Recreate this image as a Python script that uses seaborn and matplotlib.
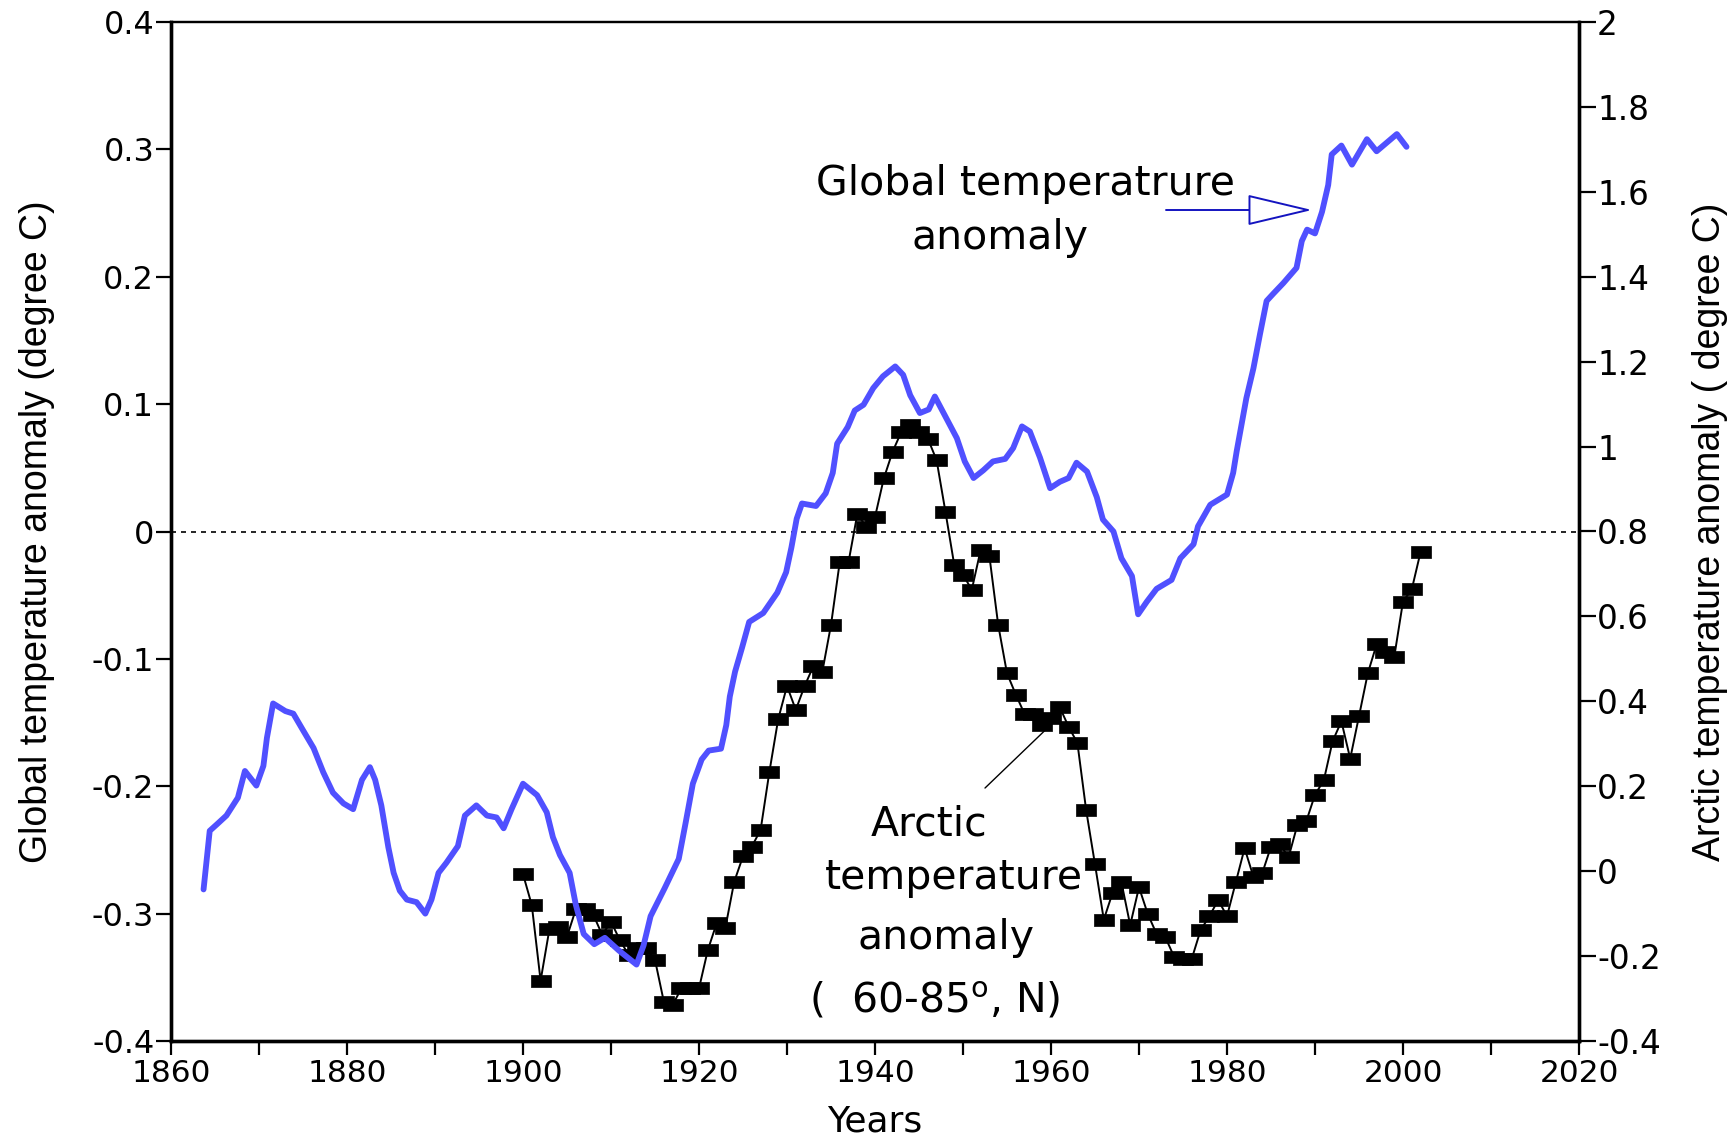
import matplotlib
matplotlib.use("Agg")
import matplotlib.pyplot as plt
import seaborn as sns
import pandas as pd

# ---------------- data ----------------
global_years = [1863.7, 1864.4, 1865.2, 1866.3, 1867.6, 1868.4, 1869.7, 1870.5, 1870.9, 1871.6,
                1873.0, 1873.9, 1875.0, 1876.2, 1877.3, 1878.4, 1879.6, 1880.7, 1881.7, 1882.6,
                1883.2, 1883.9, 1884.7, 1885.3, 1886.0, 1886.8, 1887.9, 1888.9, 1889.6, 1890.4,
                1891.3, 1892.6, 1893.4, 1894.7, 1895.9, 1897.0, 1897.8, 1898.7, 1900.0, 1901.6,
                1902.7, 1903.4, 1904.2, 1905.3, 1906.0, 1906.9, 1908.1, 1909.3, 1910.9, 1912.9,
                1913.7, 1914.5, 1916.1, 1917.7, 1918.5, 1919.3, 1920.3, 1921.1, 1922.5, 1923.1,
                1923.5, 1924.1, 1924.9, 1925.7, 1927.3, 1928.9, 1929.9, 1930.5, 1931.1, 1931.7,
                1933.3, 1934.4, 1935.2, 1935.7, 1936.9, 1937.7, 1938.7, 1939.8, 1940.9, 1942.3,
                1943.2, 1944.0, 1945.1, 1946.1, 1946.8, 1948.1, 1949.3, 1950.2, 1951.2, 1952.3,
                1953.4, 1954.8, 1955.7, 1956.7, 1957.6, 1958.75, 1959.9, 1961.0, 1962.0, 1962.9,
                1964.1, 1965.2, 1965.9, 1967.1, 1968.0, 1969.2, 1969.9, 1970.9, 1972.0, 1973.7,
                1974.7, 1976.2, 1976.7, 1978.1, 1980.0, 1980.7, 1981.1, 1982.2, 1983.0, 1983.75,
                1984.5, 1985.3, 1986.4, 1987.9, 1988.5, 1989.1, 1990.0, 1990.8, 1991.5, 1991.9,
                1993.0, 1994.2, 1995.9, 1997.0, 1999.3, 2000.4]
global_anom = [-0.281, -0.235, -0.230, -0.223, -0.209, -0.188, -0.1995, -0.184, -0.162, -0.135,
               -0.141, -0.143, -0.156, -0.170, -0.189, -0.205, -0.2135, -0.218, -0.195, -0.185,
               -0.195, -0.215, -0.248, -0.268, -0.282, -0.289, -0.291, -0.300, -0.289, -0.268,
               -0.260, -0.247, -0.223, -0.215, -0.223, -0.2245, -0.233, -0.218, -0.198, -0.207,
               -0.2205, -0.240, -0.254, -0.268, -0.293, -0.316, -0.324, -0.319, -0.329, -0.340,
               -0.325, -0.302, -0.280, -0.257, -0.228, -0.198, -0.179, -0.172, -0.1705, -0.152,
               -0.1296, -0.110, -0.091, -0.071, -0.064, -0.048, -0.032, -0.0126, 0.010, 0.022,
               0.020, 0.030, 0.046, 0.069, 0.082, 0.095, 0.0995, 0.1126, 0.1218, 0.1296,
               0.123, 0.107, 0.093, 0.0958, 0.106, 0.089, 0.0733, 0.055, 0.042, 0.048,
               0.055, 0.057, 0.0655, 0.0825, 0.0785, 0.058, 0.034, 0.039, 0.042, 0.054,
               0.047, 0.027, 0.0094, 0.000, -0.021, -0.035, -0.065, -0.055, -0.045, -0.038,
               -0.021, -0.010, 0.004, 0.021, 0.029, 0.046, 0.063, 0.1047, 0.128, 0.155,
               0.181, 0.187, 0.195, 0.207, 0.228, 0.237, 0.234, 0.251, 0.272, 0.296,
               0.303, 0.288, 0.308, 0.2985, 0.312, 0.302]

arctic_years = list(range(1900, 2003))
arctic_anom = [-0.007, -0.080, -0.258, -0.137, -0.132, -0.154, -0.090, -0.090, -0.103, -0.150,
               -0.119, -0.162, -0.197, -0.182, -0.182, -0.209, -0.307, -0.315, -0.276, -0.276,
               -0.276, -0.186, -0.123, -0.133, -0.025, 0.035, 0.058, 0.097, 0.234, 0.358,
               0.436, 0.380, 0.436, 0.483, 0.468, 0.580, 0.729, 0.729, 0.842, 0.810,
               0.834, 0.925, 0.988, 1.035, 1.051, 1.035, 1.019, 0.968, 0.847, 0.722,
               0.698, 0.663, 0.756, 0.742, 0.580, 0.466, 0.416, 0.370, 0.370, 0.344,
               0.360, 0.386, 0.340, 0.302, 0.143, 0.016, -0.114, -0.051, -0.026, -0.127,
               -0.038, -0.101, -0.148, -0.156, -0.202, -0.206, -0.206, -0.139, -0.106, -0.068,
               -0.106, -0.026, 0.054, -0.013, -0.005, 0.058, 0.063, 0.033, 0.109, 0.117,
               0.180, 0.214, 0.306, 0.353, 0.265, 0.365, 0.466, 0.534, 0.517, 0.504,
               0.635, 0.664, 0.752]

left_ticks = [0.4, 0.3, 0.2, 0.1, 0.0, -0.1, -0.2, -0.3, -0.4]
left_labels = ["0.4", "0.3", "0.2", "0.1", "0", "-0.1", "-0.2", "-0.3", "-0.4"]
right_ticks = [2.0, 1.8, 1.6, 1.4, 1.2, 1.0, 0.8, 0.6, 0.4, 0.2, 0.0, -0.2, -0.4]
right_labels = ["2", "1.8", "1.6", "1.4", "1.2", "1", "0.8", "0.6", "0.4", "0.2", "0", "-0.2", "-0.4"]
x_major = [1860, 1880, 1900, 1920, 1940, 1960, 1980, 2000, 2020]
x_labels = ["1860", "1880", "1900", "1920", "1940", "1960", "1980", "2000", "2020"]
x_minor = [1870, 1890, 1910, 1930, 1950, 1970, 1990, 2010]

global_df = pd.DataFrame({"year": global_years, "anomaly": global_anom})
arctic_df = pd.DataFrame({"year": arctic_years, "anomaly": arctic_anom})

# ---------------- style ----------------
sns.set_style("ticks")
plt.rcParams["font.family"] = ["DejaVu Sans"]
plt.rcParams["axes.unicode_minus"] = False
plt.rcParams["text.color"] = "black"
plt.rcParams["axes.labelcolor"] = "black"
plt.rcParams["xtick.color"] = "black"
plt.rcParams["ytick.color"] = "black"
plt.rcParams["axes.edgecolor"] = "black"
plt.rcParams["mathtext.fontset"] = "dejavusans"

BLUE = "#5050ff"
ARROW_BLUE = "#1414c0"

fig = plt.figure(figsize=(17.36, 11.37), dpi=100)
ax = fig.add_axes([171 / 1736, 96 / 1137, 1408 / 1736, 1019 / 1137])
ax2 = ax.twinx()

# Arctic series (right axis)
rect = [(-1.5, -1.0), (1.5, -1.0), (1.5, 1.0), (-1.5, 1.0), (-1.5, -1.0)]
sns.lineplot(data=arctic_df, x="year", y="anomaly", ax=ax2, color="black", lw=1.4,
             marker=rect, markersize=14, markerfacecolor="black",
             markeredgecolor="black", markeredgewidth=0.5, estimator=None)

# Global series (left axis)
sns.lineplot(data=global_df, x="year", y="anomaly", ax=ax, color=BLUE, lw=4.2,
             estimator=None, sort=False)

ax.set_zorder(ax2.get_zorder() + 1)
ax.patch.set_visible(False)

ax.axhline(0, color="black", lw=1.2, ls=(0, (3, 3)), zorder=1)

# axes limits / ticks
ax.set_xlim(1860, 2020)
ax.set_ylim(-0.4, 0.4)
ax2.set_ylim(-0.4, 2.0)

ax.set_xticks(x_major)
ax.set_xticklabels(x_labels)
ax.set_xticks(x_minor, minor=True)
ax.set_yticks(left_ticks)
ax.set_yticklabels(left_labels)
ax2.set_yticks(right_ticks)
ax2.set_yticklabels(right_labels)

ax.tick_params(axis="x", which="both", direction="out", length=10, width=1.6,
               labelsize=22.5, pad=3, top=False, colors="black")
ax.tick_params(axis="y", direction="out", length=11, width=1.6, labelsize=23, pad=1,
               right=False, colors="black")
ax2.tick_params(axis="y", direction="out", length=12, width=1.6, labelsize=23.5, pad=1,
                colors="black")

for a in (ax, ax2):
    for side in ("left", "right", "bottom"):
        a.spines[side].set_linewidth(2.4)
    a.spines["top"].set_linewidth(1.6)
    for s in a.spines.values():
        s.set_color("black")

# axis labels
ax.set_xlabel("Years", fontsize=26, color="black")
ax.xaxis.set_label_coords(0.5, -0.062)
ax.set_ylabel("Global temperature anomaly (degree C)", fontsize=27, color="black",
              family=["Liberation Sans", "DejaVu Sans"])
ax.yaxis.set_label_coords(-0.0824, 0.5)
ax2.set_ylabel("Arctic temperature anomaly ( degree C)", fontsize=27, color="black",
               family=["Liberation Sans", "DejaVu Sans"])
ax2.yaxis.set_label_coords(1.0803, 0.5)

# annotations
TXT = 29.5
ax.text(1957.1, 0.2642, "Global temperatrure", ha="center", va="baseline", fontsize=TXT,
        color="black")
ax.text(1954.2, 0.2218, "anomaly", ha="center", va="baseline", fontsize=TXT, color="black")
ax.annotate("", xy=(1989.66, 0.2524), xytext=(1973.07, 0.2524),
            arrowprops=dict(arrowstyle="-|>,head_length=2.1,head_width=0.5",
                            mutation_scale=20, fc="white", ec=ARROW_BLUE, lw=1.4,
                            shrinkA=0, shrinkB=0))

ax.text(1946.1, -0.239, "Arctic", ha="center", va="baseline", fontsize=TXT, color="black")
ax.text(1948.98, -0.2807, "temperature", ha="center", va="baseline", fontsize=TXT,
        color="black")
ax.text(1948.07, -0.3278, "anomaly", ha="center", va="baseline", fontsize=TXT, color="black")
ax.text(1946.8, -0.378, r"(  60-85$^{\mathrm{o}}$, N)", ha="center", va="baseline",
        fontsize=TXT, color="black")
ax.annotate("", xy=(1960.3, -0.1496), xytext=(1952.5, -0.2014),
            arrowprops=dict(arrowstyle="-", color="black", lw=1.0,
                            shrinkA=0, shrinkB=0))

fig.savefig("out.png", dpi=100)
